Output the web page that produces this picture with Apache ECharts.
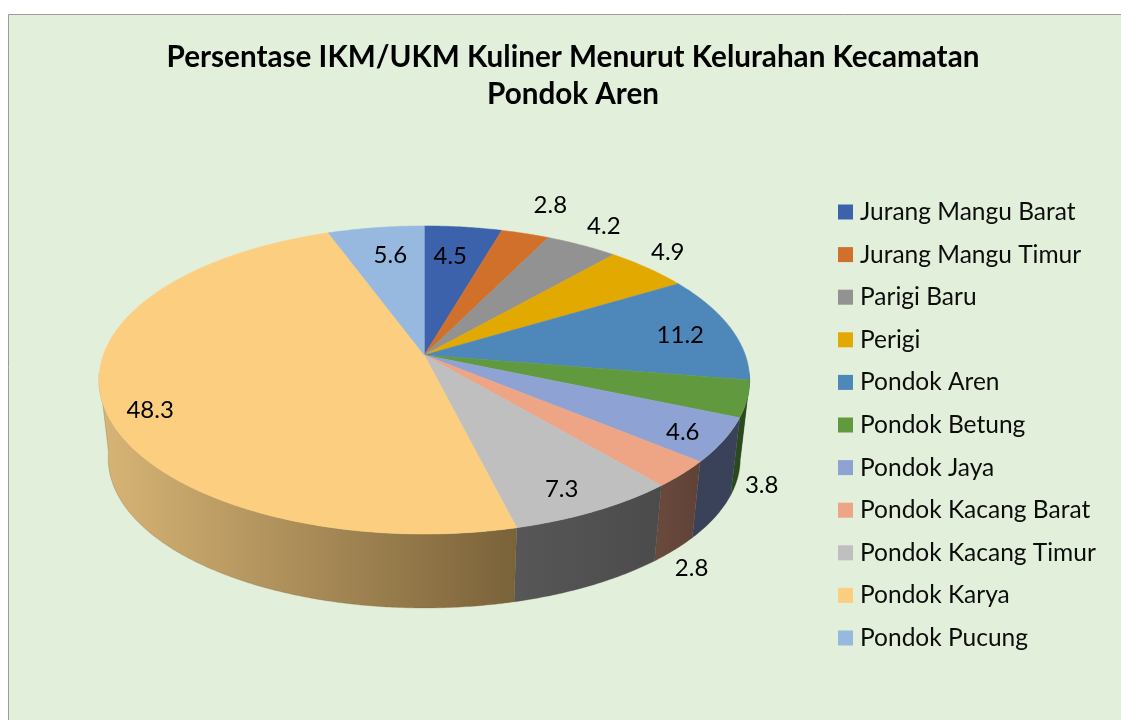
<!DOCTYPE html>
<html>
<head>
<meta charset="utf-8">
<style>html,body{margin:0;padding:0;background:#fff}#chart{width:1121px;height:720px}</style>
<script src="https://cdn.jsdelivr.net/npm/echarts@6/dist/echarts.min.js"></script>
</head>
<body>
<div id="chart"></div>
<script>
var categories = ['Jurang Mangu Barat','Jurang Mangu Timur','Parigi Baru','Perigi','Pondok Aren','Pondok Betung','Pondok Jaya','Pondok Kacang Barat','Pondok Kacang Timur','Pondok Karya','Pondok Pucung'];
var values = [4.5,2.8,4.2,4.9,11.2,3.8,4.6,2.8,7.3,48.3,5.6];
var valueLabels = ['4.5','2.8','4.2','4.9','11.2','3.8','4.6','2.8','7.3','48.3','5.6'];
var topColors = ['#3c62ab','#d0702b','#929292','#e2a900','#4e87ba','#619a3e','#8ea3d4','#eea585','#bfbfbf','#fbce80','#97b8df'];
var sideLeft  = ['#26406f','#7d431a','#585858','#886600','#2f5170','#2a4a1c','#3a4259','#6a4a3c','#575757','#d8b576','#5b6f86'];
var sideRight = ['#26406f','#7d431a','#585858','#886600','#2f5170','#2a4a1c','#3a4259','#5f4238','#4b4b4b','#7a6239','#5b6f86'];
// label offset from the rim point at each slice's middle angle
var labelNudge = [[-13,29],[25,-28],[22,-19],[20,-16],[-50,8],[14.5,86],[-41,-8],[9.5,94],[-34,-22],[48,9],[14.5,28]];

var total = values.reduce(function(a,b){return a+b;},0);
var persp = -0.1623;
var topFace = {x:424.3, y:355, a:321, b:150};
var baseFace = {x:424.3, y:434.4, a:311.8, b:145.4};
var sideMin = 97, sideMax = 263;

function project(face, deg){
  var t = deg*Math.PI/180, u = Math.sin(t), v = -Math.cos(t), d = 1+persp*v;
  return [face.x+face.a*u/d, face.y+face.b*v/d];
}
function arc(face, from, to){
  var pts = [], n = Math.max(2, Math.ceil(Math.abs(to-from)*2));
  for (var i=0;i<=n;i++) pts.push(project(face, from+(to-from)*i/n));
  return pts;
}
function startDeg(i){
  var s = 0;
  for (var k=0;k<i;k++) s += values[k];
  return s/total*360;
}
function makeRender(i){
  return function(params, api){
    var from = startDeg(i), to = from + api.value(0)/total*360;
    var children = [];
    var a = Math.max(from, sideMin), b = Math.min(to, sideMax);
    if (b > a) {
      children.push({
        type:'polygon', z2:1,
        shape:{points: arc(topFace,a,b).concat(arc(baseFace,b,a))},
        style:{
          fill: new echarts.graphic.LinearGradient(0,0,1,0,[{offset:0,color:sideLeft[i]},{offset:1,color:sideRight[i]}]),
          stroke: sideRight[i], lineWidth:0.3
        }
      });
    }
    children.push({
      type:'polygon', z2:2,
      shape:{points:[[topFace.x,topFace.y]].concat(arc(topFace,from,to))},
      style:{fill:topColors[i], stroke:topColors[i], lineWidth:0.5}
    });
    var rim = project(topFace,(from+to)/2);
    children.push({
      type:'text', z2:3,
      x: rim[0]+labelNudge[i][0], y: rim[1]+labelNudge[i][1],
      style:{text:valueLabels[i], fill:'#000', font:'24px Lato', align:'center', verticalAlign:'middle'}
    });
    return {type:'group', children:children};
  };
}

var chart = echarts.init(document.getElementById('chart'), null, {renderer:'canvas'});
chart.setOption({
  animation:false,
  backgroundColor:'#fff',
  graphic:[{type:'rect', z:-10, silent:true, shape:{x:8.5,y:14.5,width:1200,height:800}, style:{fill:'#e2efda',stroke:'#9c9c9c',lineWidth:1}}],
  title:{
    text:'Persentase IKM/UKM Kuliner Menurut Kelurahan Kecamatan\nPondok Aren',
    left:568, top:34, textAlign:'center',
    textStyle:{fontFamily:'Lato', fontWeight:'bold', fontSize:29.65, lineHeight:37, color:'#000'}
  },
  legend:{
    orient:'vertical', left:833, top:194.5, itemWidth:15, itemHeight:15, itemGap:17.6,
    icon:'rect', selectedMode:false,
    textStyle:{fontFamily:'Lato', fontSize:24.5, lineHeight:15, color:'#0d0d0d', padding:[0,0,0,2]},
    data:categories
  },
  series: categories.map(function(name,i){
    return {
      type:'custom', name:name, coordinateSystem:'none', silent:true,
      itemStyle:{color:topColors[i]},
      data:[{name:name, value:values[i]}],
      renderItem:makeRender(i)
    };
  })
});
</script>
</body>
</html>
